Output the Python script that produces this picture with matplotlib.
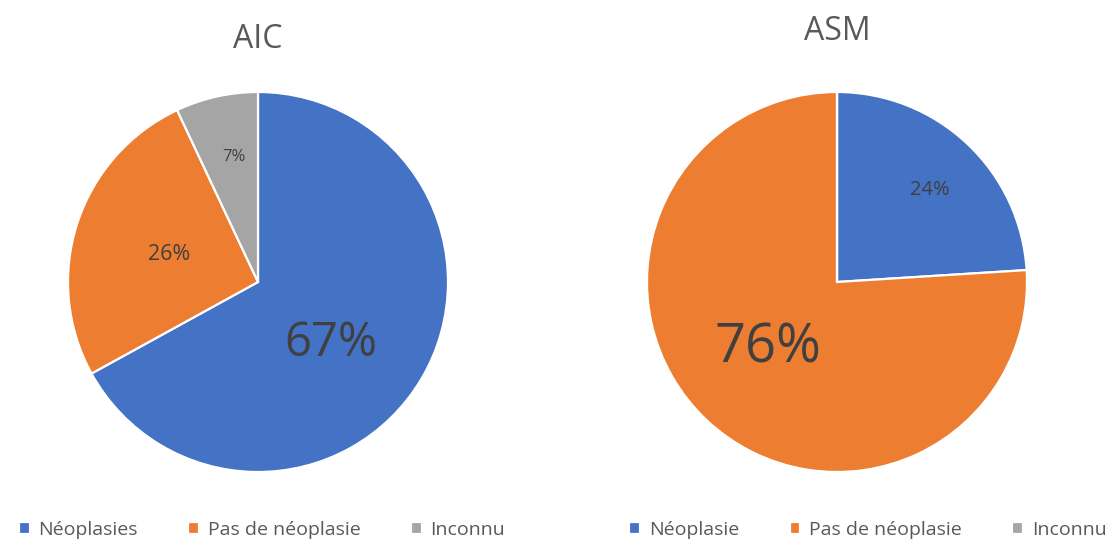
import numpy as np
import matplotlib.pyplot as plt

plt.rcParams['font.family'] = ['Open Sans', 'DejaVu Sans']

# data
aic_labels = ["Néoplasies", "Pas de néoplasie", "Inconnu"]
aic_values = [67, 26, 7]
asm_labels = ["Néoplasie", "Pas de néoplasie", "Inconnu"]
asm_values = [24, 76, 0]
colors = ["#4472C4", "#ED7D31", "#A5A5A5"]

text_color = "#404040"
title_color = "#595959"


def draw_pie(ax, values, title, title_y, label_r, label_shift, label_size):
    wedges, _ = ax.pie(values, colors=colors, startangle=90, counterclock=False,
                       wedgeprops=dict(edgecolor="white", linewidth=1.6))
    for w in wedges:
        w.set_clip_on(False)
    ax.set_xlim(-1, 1)
    ax.set_ylim(-1, 1)
    ax.set_aspect("equal")

    # percentage labels, placed along each wedge's bisector
    for i, (w, v) in enumerate(zip(wedges, values)):
        if v == 0:
            continue
        mid = np.deg2rad((w.theta1 + w.theta2) / 2 + label_shift[i])
        x = label_r[i] * np.cos(mid)
        y = label_r[i] * np.sin(mid)
        ax.text(x, y, f"{v}%", ha="center", va="center",
                fontsize=label_size[i], color=text_color)

    ax.text(0.5, title_y, title, transform=ax.transAxes, ha="center", va="center",
            fontsize=23, color=title_color)
    return wedges


fig = plt.figure(figsize=(11.12, 5.39), dpi=100)
ax1 = fig.add_axes([68 / 1112, 67 / 539, 380 / 1112, 380 / 539])
ax2 = fig.add_axes([647 / 1112, 67 / 539, 380 / 1112, 380 / 539])

w1 = draw_pie(ax1, aic_values, "AIC", 1.138,
              label_r=[0.50, 0.49, 0.67], label_shift=[-9.7, 1, -1.5],
              label_size=[34, 15.5, 12])
w2 = draw_pie(ax2, asm_values, "ASM", 1.158,
              label_r=[0.69, 0.50, 0.0], label_shift=[-2, -3, 0],
              label_size=[14.5, 39, 12])

for wedges, labels, xc in [(w1, aic_labels, 262 / 1112), (w2, asm_labels, 868 / 1112)]:
    leg = fig.legend(wedges, labels, loc="center", bbox_to_anchor=(xc, 9 / 539),
                     ncol=3, frameon=False, fontsize=14, handlelength=0.55,
                     handleheight=0.55, handletextpad=0.45, columnspacing=2.6,
                     borderpad=0)
    for t in leg.get_texts():
        t.set_color(title_color)

fig.savefig("out.png", dpi=100)
